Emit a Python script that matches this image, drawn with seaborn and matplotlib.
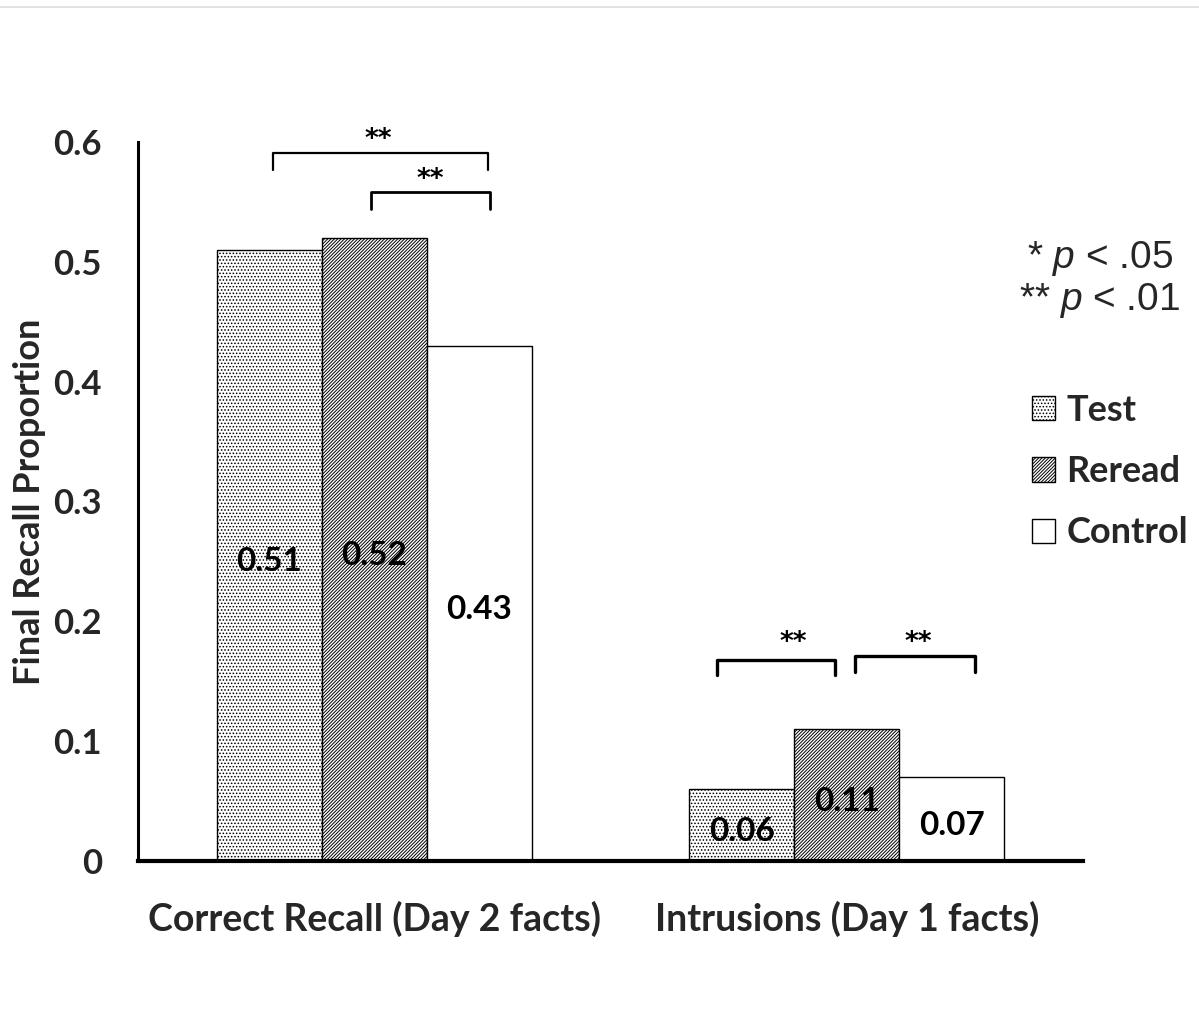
import matplotlib
matplotlib.use("Agg")
import matplotlib.pyplot as plt
import seaborn as sns
import pandas as pd
from matplotlib.lines import Line2D
from matplotlib.patches import Patch

categories = ["Correct Recall (Day 2 facts)", "Intrusions (Day 1 facts)"]
conditions = ["Test", "Reread", "Control"]
test_vals = [0.51, 0.06]
reread_vals = [0.52, 0.11]
control_vals = [0.43, 0.07]
yticks = [0, 0.1, 0.2, 0.3, 0.4, 0.5, 0.6]
ytick_labels = ["0", "0.1", "0.2", "0.3", "0.4", "0.5", "0.6"]

rows = []
for cond, vals in zip(conditions, [test_vals, reread_vals, control_vals]):
    for cat, v in zip(categories, vals):
        rows.append({"Category": cat, "Condition": cond, "Value": v})
df = pd.DataFrame(rows)

sns.set_style("white")
plt.rcParams["font.family"] = ["Lato", "DejaVu Sans"]
plt.rcParams["hatch.linewidth"] = 0.7
plt.rcParams["mathtext.fontset"] = "custom"
plt.rcParams["mathtext.it"] = "Liberation Sans:italic"
plt.rcParams["mathtext.rm"] = "Liberation Sans"

fig = plt.figure(figsize=(11.99, 10.18), dpi=100)
ax = fig.add_axes([138/1199, 1-861/1018, (1083-138)/1199, (861-142)/1018])

sns.barplot(data=df, x="Category", y="Value", hue="Condition", order=categories,
            hue_order=conditions, palette=["white", "white", "white"], width=0.667,
            edgecolor="black", linewidth=1.0, legend=False, ax=ax, errorbar=None,
            saturation=1)

hatches = {"Test": ".....", "Reread": "//////////", "Control": ""}
for cont, cond in zip(ax.containers, conditions):
    for bar in cont:
        bar.set_hatch(hatches[cond])
        bar.set_edgecolor("black")
    anns = ax.bar_label(cont, labels=[f"{v:.2f}" for v in cont.datavalues], label_type="center",
                        fontsize=24, fontweight="bold", color="black")
    for a in anns:
        a.xyann = (0, -4.5)
        a.set_anncoords("offset points")

ax.set_ylim(0, 0.6)
ax.set_xlim(-0.5, 1.5)
ax.set_yticks(yticks)
ax.set_yticklabels(ytick_labels, fontsize=25, fontweight="bold")
ax.set_xticks([0, 1])
ax.set_xticklabels(categories, fontsize=27, fontweight="bold")
ax.set_xticks([-0.5, 0.5, 1.5], minor=True)
ax.tick_params(axis="x", which="major", length=0, pad=29)
ax.tick_params(axis="x", which="minor", length=11, width=3, direction="out", color="black")
ax.tick_params(axis="y", length=12, width=2.2, direction="out", color="black", pad=14)
ax.set_xlabel("")
ax.set_ylabel("Final Recall Proportion", fontsize=26, fontweight="bold", labelpad=5)
for s in ["top", "right"]:
    ax.spines[s].set_visible(False)
ax.spines["left"].set_linewidth(2.2)
ax.spines["left"].set_color("black")
ax.spines["bottom"].set_linewidth(3)
ax.spines["bottom"].set_color("black")

def bracket(x0, x1, ytop, ybot, lw):
    ax.plot([x0, x0, x1, x1], [ybot, ytop, ytop, ybot], color="black", lw=lw,
            clip_on=False, solid_joinstyle="round")

def stars(x, y):
    ax.text(x, y, "**", ha="center", va="center", fontsize=19, fontweight="bold",
            color="black", family=["DejaVu Sans"], clip_on=False)

bracket(-0.215, 0.241, 0.591, 0.577, 1.6)
stars(0.008, 0.602)
bracket(-0.006, 0.246, 0.558, 0.544, 2.0)
stars(0.119, 0.568)
bracket(0.726, 0.976, 0.168, 0.155, 2.4)
stars(0.886, 0.182)
bracket(1.018, 1.272, 0.171, 0.158, 2.4)
stars(1.152, 0.182)

fig.text(1027/1199, 1-258/1018, "* $p$ < .05", fontsize=28, family=["Liberation Sans"],
         ha="left", va="center")
fig.text(1019/1199, 1-300/1018, "** $p$ < .01", fontsize=28, family=["Liberation Sans"],
         ha="left", va="center")

handles = [Patch(facecolor="white", edgecolor="black", hatch=hatches[c], label=c) for c in conditions]
leg = fig.legend(handles=handles, loc="upper left", bbox_to_anchor=(1032/1199, 1-394/1018),
                 frameon=False, prop={"family": "Lato", "weight": "bold", "size": 26},
                 handlelength=0.65, handleheight=0.65, handletextpad=0.3, labelspacing=0.78,
                 borderaxespad=0, borderpad=0)

fig.add_artist(Line2D([0, 1], [1-7/1018, 1-7/1018], color="#dddddd", lw=1.2,
                      transform=fig.transFigure))

fig.savefig("out.png", dpi=100)
